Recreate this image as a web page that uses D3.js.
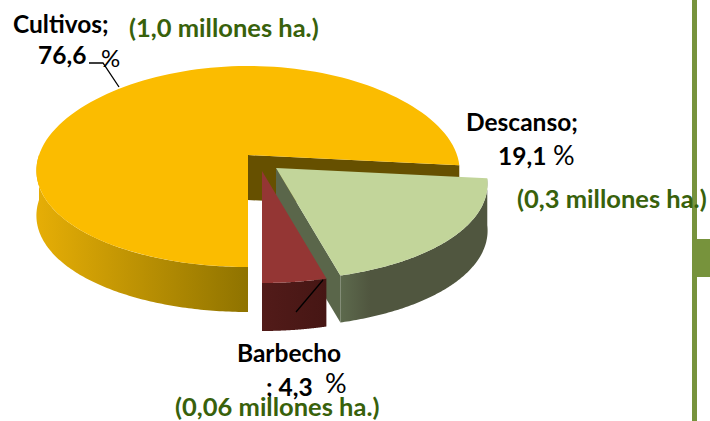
<!DOCTYPE html>
<html><head><meta charset="utf-8">
<script src="https://cdn.jsdelivr.net/npm/d3@7"></script>
<style>html,body{margin:0;padding:0;background:#fff;overflow:hidden}svg{display:block}</style>
</head><body><div id="c"></div>
<script>
const categories = ["Cultivos", "Descanso", "Barbecho"];
const shares = [76.6, 19.1, 4.3];
const shareLabels = ["76,6", "19,1", "4,3"];
const areaLabels = ["(1,0 millones ha.)", "(0,3 millones ha.)", "(0,06 millones ha.)"];
const topColors = ["#fbbc00", "#c2d59a", "#943634"];
const wallDark = ["#8f7300", "#50563f", "#461614"];
const wallLight = ["#e6ae06", "#5d6a4d", "#521b19"];
const wallStops = [1, 0.2, 1];
const innerColors = ["#665000", "#5a664a", "#5a1f1d"];
const apexes = [[248,155],[276,168],[262,171]];
const depths = [45, 47, 48];

const W = 710, H = 421, RX = 209;
const svg = d3.select("#c").append("svg").attr("width", W).attr("height", H);
const defs = svg.append("defs");

const pie = d3.pie().value(d => d).sort(null)
  .startAngle(Math.PI).endAngle(3 * Math.PI);
const arcs = pie(shares);
const lineGen = d3.line();

// perspective projection: the front of the disc is larger than the back
const proj = (apex, t) => {
  const c = Math.cos(t), s = Math.sin(t);
  return [apex[0] + RX * (1 - 0.16 * c) * s, apex[1] - 100.5 * c + 11.5 * c * c];
};
const sample = (a, b) => d3.range(0, 121).map(i => a + (b - a) * i / 120);

arcs.forEach((arc, i) => {
  const apex = apexes[i];
  const wrap = arc.startAngle >= 2 * Math.PI ? 2 * Math.PI : 0;
  const a0 = arc.startAngle - wrap, a1 = arc.endAngle - wrap;
  const pts = sample(a0, a1).map(t => proj(apex, t));
  const down = p => [p[0], p[1] + depths[i]];
  const apexD = down(apex);
  const g = svg.append("g");

  // outer wall, only the part facing the viewer
  const front = sample(Math.max(a0, Math.PI / 2), Math.min(a1, 3 * Math.PI / 2))
    .map(t => proj(apex, t));
  const gid = "w" + i;
  const x0 = d3.min(front, p => p[0]), x1 = d3.max(front, p => p[0]);
  const grad = defs.append("linearGradient").attr("id", gid).attr("gradientUnits", "userSpaceOnUse")
    .attr("x1", x0).attr("x2", x1).attr("y1", 0).attr("y2", 0);
  grad.append("stop").attr("offset", 0).attr("stop-color", wallLight[i]);
  grad.append("stop").attr("offset", wallStops[i]).attr("stop-color", wallDark[i]);

  if (i < 2) {
    // cut face of the slice that shows beside the neighbouring slices
    const end = pts[pts.length - 1];
    g.append("path").attr("fill", innerColors[i])
      .attr("d", lineGen([apex, end, down(end), apexD]) + "Z");
  }
  // wall
  g.append("path").attr("fill", "url(#" + gid + ")")
    .attr("d", lineGen(front.concat(front.slice().reverse().map(down))) + "Z");
  // top face
  g.append("path").attr("fill", topColors[i])
    .attr("d", lineGen([apex].concat(pts)) + "Z");
});

// leader lines
const leaders = [
  [[89,63],[103,63],[119,87]],
  [[323,280],[296,312]]
];
leaders.forEach(l => svg.append("path").attr("d", lineGen(l)).attr("fill", "none")
  .attr("stroke", "#000").attr("stroke-width", 1.3));

// frame of the slide
const frameGreen = "#77933c";
svg.append("rect").attr("x", 692).attr("y", 0).attr("width", 5).attr("height", H).attr("fill", frameGreen);
svg.append("rect").attr("x", 692).attr("y", 239).attr("width", 18).attr("height", 38).attr("fill", frameGreen);

const FONT = "Lato, 'Open Sans', sans-serif";
const text = (s, x, y, fill, size, weight, anchor) => svg.append("text")
  .attr("x", x).attr("y", y).attr("fill", fill).attr("font-family", FONT)
  .attr("font-size", size).attr("font-weight", weight).attr("text-anchor", anchor || "start").text(s);

const green = "#38610b";
text(categories[0] + ";", 13, 33, "#000", 24.5, 700);
text(shareLabels[0], 38, 64, "#000", 24.5, 700);
text("%", 101, 67, "#000", 24, 400);
text(areaLabels[0], 129, 37, green, 25.5, 700);

text(categories[1] + ";", 466, 131, "#000", 24.5, 700);
text(shareLabels[1], 498, 165, "#000", 24.5, 700);
text("%", 553, 165, "#000", 27, 400);
text(areaLabels[1], 517, 208, green, 25.5, 700);

text(categories[2], 237, 362, "#000", 24.5, 700);
text("; 4,3", 266, 396, "#000", 24.5, 700);
text("%", 325, 393, "#000", 27, 400);
text(areaLabels[2], 175, 416, green, 25.5, 700);
</script></body></html>
